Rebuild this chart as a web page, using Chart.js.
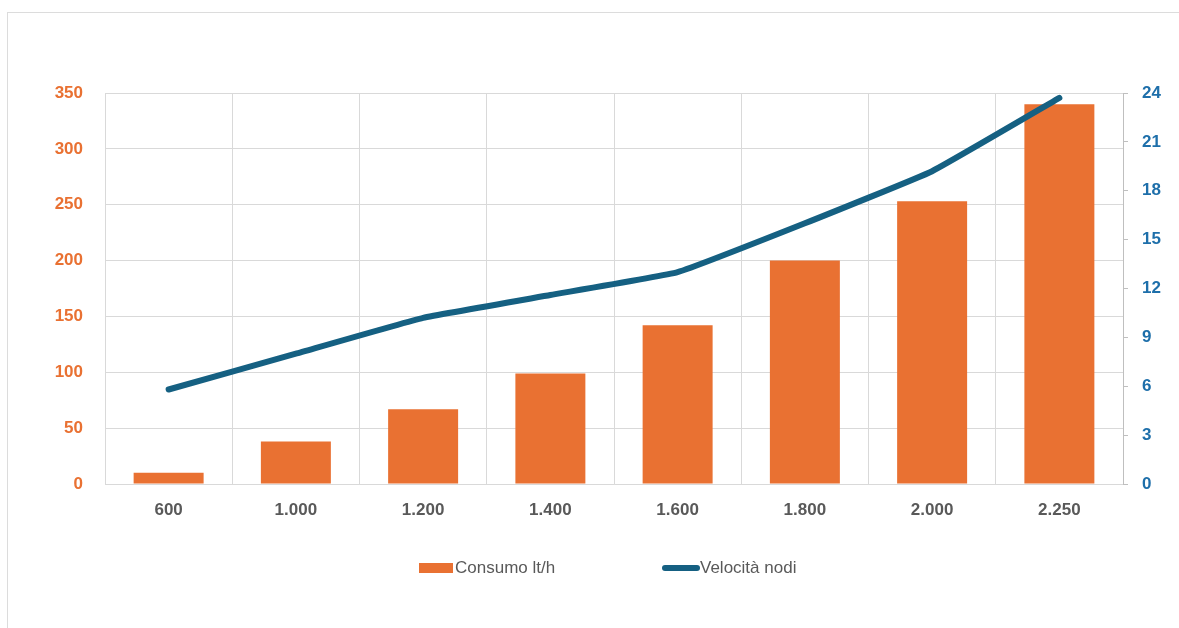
<!DOCTYPE html>
<html>
<head>
<meta charset="utf-8">
<script src="https://cdn.jsdelivr.net/npm/chart.js@4"></script>
<style>
    html, body { margin: 0; padding: 0; background: #fff; overflow: hidden; }
    body { width: 1179px; height: 628px; position: relative; font-family: "Liberation Sans", Arial, sans-serif; }
    #frame { position: absolute; left: 7px; top: 12px; width: 1200px; height: 700px; border: 1.5px solid #dcdcdc; }
    #wrap { position: absolute; left: 0; top: 0; width: 1179px; height: 628px; }
    .leg { position: absolute; font-size: 17px; color: #595959; line-height: 20px; }
    .swatch-bar { position: absolute; left: 419px; top: 563px; width: 34px; height: 10px; background: #E97132; }
    .swatch-line { position: absolute; left: 662px; top: 565px; width: 38px; height: 6px; border-radius: 3px; background: #156082; }
</style>
</head>
<body>
<div id="frame"></div>
<div id="wrap"><canvas id="chart" width="1179" height="628"></canvas></div>
<div class="swatch-bar"></div>
<div class="leg" style="left:455px; top:558px;">Consumo lt/h</div>
<div class="swatch-line"></div>
<div class="leg" style="left:700px; top:558px;">Velocità nodi</div>
<script>
// RPM labels and measured values
const rpmLabels = ["600", "1.000", "1.200", "1.400", "1.600", "1.800", "2.000", "2.250"];
const consumo = [10, 38, 67, 99, 142, 200, 253, 340];      // lt/h
const velocita = [5.8, 8.0, 10.2, 11.6, 13.0, 16.0, 19.2, 23.7]; // nodi

const ORANGE = "#E97132";
const TEAL = "#156082";
const BLUE_TICK = "#1E6FAA";
const GRID = "#d9d9d9";
const tickFont = { family: "'Liberation Sans', Arial, sans-serif", size: 17, weight: "bold" };

const ctx = document.getElementById("chart").getContext("2d");
new Chart(ctx, {
    data: {
        labels: rpmLabels,
        datasets: [
            {
                type: "line",
                label: "Velocità nodi",
                data: velocita,
                yAxisID: "y1",
                borderColor: TEAL,
                backgroundColor: TEAL,
                borderWidth: 6,
                borderCapStyle: "round",
                borderJoinStyle: "round",
                pointRadius: 0,
                tension: 0.1,
                order: 0,
            },
            {
                type: "bar",
                label: "Consumo lt/h",
                data: consumo,
                yAxisID: "y",
                backgroundColor: ORANGE,
                barPercentage: 0.55,
                categoryPercentage: 1.0,
                order: 1,
            },
        ],
    },
    options: {
        responsive: false,
        animation: false,
        layout: { padding: { left: 45, right: 6, top: 93, bottom: 100 } },
        plugins: { legend: { display: false }, tooltip: { enabled: false } },
        scales: {
            x: {
                offset: true,
                grid: { color: GRID, lineWidth: 1, drawTicks: false, offset: true },
                border: { color: GRID },
                ticks: { color: "#595959", font: tickFont, padding: 16 },
                afterFit: s => { s.height = 44; },
            },
            y: {
                position: "left",
                min: 0,
                max: 350,
                ticks: { stepSize: 50, color: ORANGE, font: tickFont, padding: 22 },
                grid: { color: GRID, lineWidth: 1, drawTicks: false },
                border: { color: GRID },
                afterFit: s => { s.width = 60; },
            },
            y1: {
                position: "right",
                min: 0,
                max: 24,
                ticks: { stepSize: 3, color: BLUE_TICK, font: tickFont, padding: 14 },
                grid: { drawOnChartArea: false, color: "#bfbfbf", tickLength: 5 },
                border: { color: "#bfbfbf" },
                afterFit: s => { s.width = 50; },
            },
        },
    },
});
</script>
</body>
</html>
